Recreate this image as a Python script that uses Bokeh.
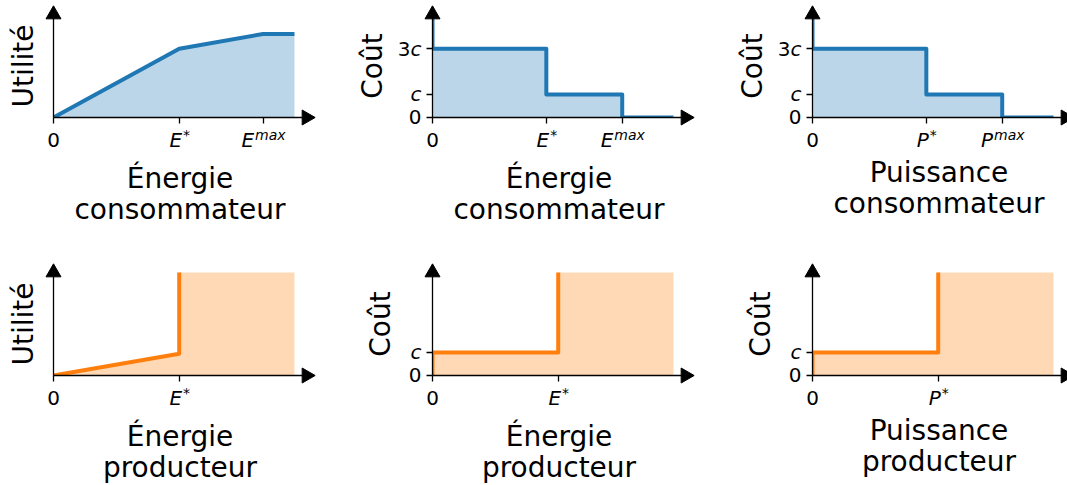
import numpy as np
from bokeh.plotting import figure
from bokeh.models import Range1d, FixedTicker, ColumnDataSource
from bokeh.core.properties import value
from bokeh.layouts import row, column
from bokeh.embed import file_html
from bokeh.resources import INLINE

FONT = "DejaVu Sans"
BLUE = "#1f77b4"
ORANGE = "#ff7f0e"

# ---------------- data (y in units of c) ----------------
cons_util_x = [0.0, 0.6, 1.0, 1.15]
cons_util_y = [0.0, 3.0, 3.65, 3.65]

cons_cost_breaks = [0.0, 0.6, 1.0, 1.27]
cons_cost_levels = [3.0, 1.0, 0.0]
cons_cost_at_zero = 10.0          # off the top of the axes

prod_util_x = [0.0, 0.6, 0.6, 1.15]
prod_util_y = [0.0, 0.95, 10.0, 10.0]

prod_cost_breaks = [0.0, 0.6, 1.15]
prod_cost_levels = [1.0, 10.0]
prod_cost_at_zero = 0.0

y_top = 4.5

# tick labels: (base, superscript)
cons_xticks = [0.0, 0.6, 1.0]
energy_cons_xlabels = [("0", ""), ("E", "*"), ("E", "max")]
power_cons_xlabels = [("0", ""), ("P", "*"), ("P", "max")]
prod_xticks = [0.0, 0.6]
energy_prod_xlabels = [("0", ""), ("E", "*")]
power_prod_xlabels = [("0", ""), ("P", "*")]

# y tick labels: (upright part, italic part)
cons_cost_yticks = [0.0, 1.0, 3.0]
cons_cost_ylabels = [("0", ""), ("", "c"), ("3", "c")]
prod_cost_yticks = [0.0, 1.0]
prod_cost_ylabels = [("0", ""), ("", "c")]

# DejaVu Sans advance widths (em)
W = {"0": 0.636, "3": 0.636, "E": 0.632, "P": 0.603, "*": 0.5, "m": 0.974,
     "a": 0.613, "x": 0.592, "c": 0.550}
BASE_FIX = 0.36   # baseline correction of the renderer, in em


def tw(s, size):
    return sum(W.get(ch, 0.6) for ch in s) * size


def step_after(breaks, levels, at_zero):
    xs, ys = [breaks[0]], [at_zero]
    for i, lv in enumerate(levels):
        xs += [breaks[i], breaks[i + 1]]
        ys += [lv, lv]
    return xs, ys


def make_panel(xend, xticks, xlabels, yticks, ylabels, xtitle, ytitle, color,
               line_x, line_y, fill_x, fill_y, borders, x_title_off, y_title_off):
    bl, br, bt, bb = borders
    xr_end = xend * 1.05
    p = figure(frame_width=253, frame_height=103,
               x_range=Range1d(0, xr_end), y_range=Range1d(0, y_top),
               output_backend="svg", toolbar_location=None,
               min_border_left=bl, min_border_right=br,
               min_border_top=bt, min_border_bottom=bb)
    p.outline_line_color = None
    p.grid.visible = False

    p.varea(x=fill_x, y1=[0] * len(fill_x), y2=fill_y, fill_color=color, fill_alpha=0.3)
    p.line(line_x, line_y, line_color=color, line_width=4, line_join="round")

    for ax, ticks in ((p.xaxis, xticks), (p.yaxis, yticks)):
        ax.ticker = FixedTicker(ticks=ticks)
        ax.major_label_overrides = {t: "" for t in ticks}
        ax.major_label_standoff = 0
        ax.axis_line_color = "black"
        ax.axis_line_width = 1.3
        ax.major_tick_line_color = "black"
        ax.major_tick_line_width = 1.3
        ax.major_tick_out = 6
        ax.major_tick_in = 0
        ax.minor_tick_out = 0
        ax.minor_tick_in = 0

    # axis arrows
    p.scatter([xr_end], [0], marker="triangle", angle=-np.pi / 2, size=15,
              color="black", level="overlay")
    p.scatter([0], [y_top], marker="triangle", size=15, color="black", level="overlay")

    # all texts (tick labels and axis titles); offsets give the glyph baseline
    d = dict(x=[], y=[], text=[], xo=[], yo=[], size=[], style=[], align=[], angle=[])

    def add(x, y, text, xo, yo, size, style, align, angle=0.0):
        fix = BASE_FIX * size
        if angle:
            xo -= fix
        else:
            yo -= fix
        for k, v in zip(("x", "y", "text", "xo", "yo", "size", "style", "align", "angle"),
                        (x, y, text, xo, yo, "%dpx" % size, style, align, angle)):
            d[k].append(v)

    for t, (base, sup) in zip(xticks, xlabels):
        wb, ws = tw(base, 20), tw(sup, 14)
        x0 = -(wb + ws) / 2
        add(t, 0, base, x0, 30, 20, "italic" if base.isalpha() else "normal", "left")
        if sup:
            add(t, 0, sup, x0 + wb + 1, 23, 14, "italic" if sup.isalpha() else "normal", "left")
    for t, (up, it) in zip(yticks, ylabels):
        xo = -11
        if it:
            add(0, t, it, xo, 7, 20, "italic", "right")
            xo -= tw(it, 20)
        if up:
            add(0, t, up, xo, 7, 20, "normal", "right")
    for i, line in enumerate(xtitle):
        add(xr_end / 2, 0, line, 0, x_title_off + 31 * i, 28, "normal", "center")
    add(0, y_top / 2, ytitle, -y_title_off, 0, 28, "normal", "center", np.pi / 2)

    src = ColumnDataSource(d)
    p.text(x="x", y="y", text="text", x_offset="xo", y_offset="yo", angle="angle",
           text_font=value(FONT), text_font_size="size", text_font_style="style",
           text_align="align", text_baseline="alphabetic", text_color="black",
           source=src, level="overlay")
    return p


cc_x, cc_y = step_after(cons_cost_breaks, cons_cost_levels, cons_cost_at_zero)
pc_x, pc_y = step_after(prod_cost_breaks, prod_cost_levels, prod_cost_at_zero)

TOP = (14, 128)
BOT = (27, 110)
ENERGIE_CONS = ["Énergie", "consommateur"]
PUISS_CONS = ["Puissance", "consommateur"]
ENERGIE_PROD = ["Énergie", "producteur"]
PUISS_PROD = ["Puissance", "producteur"]

p1 = make_panel(cons_util_x[-1], cons_xticks, energy_cons_xlabels, [], [],
                ENERGIE_CONS, "Utilité", BLUE,
                cons_util_x, cons_util_y, cons_util_x, cons_util_y,
                (53, 44) + TOP, 71, 20)
p2 = make_panel(cc_x[-1], cons_xticks, energy_cons_xlabels, cons_cost_yticks, cons_cost_ylabels,
                ENERGIE_CONS, "Coût", BLUE,
                cc_x, cc_y, cc_x[1:], cc_y[1:],
                (82, 45) + TOP, 71, 50)
p3 = make_panel(cc_x[-1], cons_xticks, power_cons_xlabels, cons_cost_yticks, cons_cost_ylabels,
                PUISS_CONS, "Coût", BLUE,
                cc_x, cc_y, cc_x[1:], cc_y[1:],
                (82, 2) + TOP, 65, 50)
p4 = make_panel(prod_util_x[-1], prod_xticks, energy_prod_xlabels, [], [],
                ENERGIE_PROD, "Utilité", ORANGE,
                prod_util_x[:3], prod_util_y[:3], prod_util_x, prod_util_y,
                (53, 44) + BOT, 71, 20)
p5 = make_panel(pc_x[-1], prod_xticks, energy_prod_xlabels, prod_cost_yticks, prod_cost_ylabels,
                ENERGIE_PROD, "Coût", ORANGE,
                pc_x[:4], pc_y[:4], pc_x[1:], pc_y[1:],
                (82, 45) + BOT, 71, 42)
p6 = make_panel(pc_x[-1], prod_xticks, power_prod_xlabels, prod_cost_yticks, prod_cost_ylabels,
                PUISS_PROD, "Coût", ORANGE,
                pc_x[:4], pc_y[:4], pc_x[1:], pc_y[1:],
                (82, 2) + BOT, 65, 42)

layout = column(row(p1, p2, p3), row(p4, p5, p6))
open("out.html", "w").write(file_html(layout, INLINE))
